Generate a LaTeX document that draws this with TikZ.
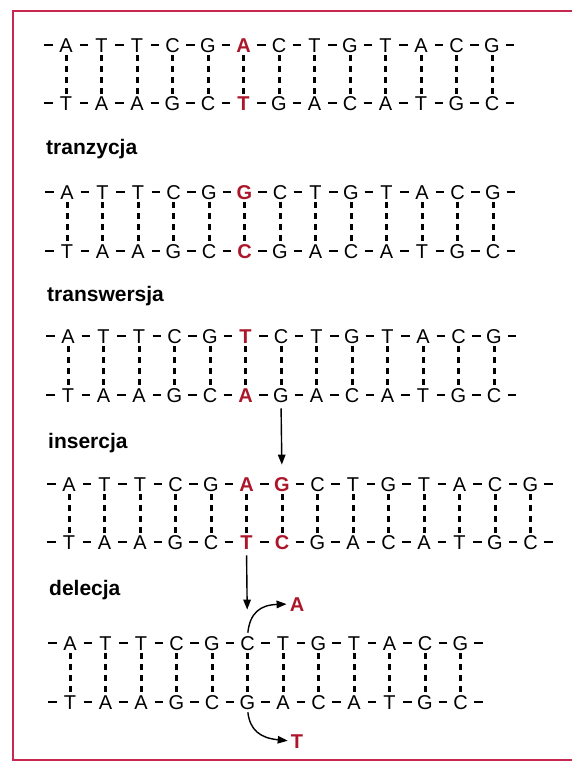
\documentclass[tikz,border=0pt]{standalone}
\usepackage{fontspec}
\setmainfont{Liberation Sans}
\usetikzlibrary{arrows.meta}

\definecolor{mutred}{RGB}{172,22,42}
\definecolor{framered}{RGB}{200,40,80}

\tikzset{
  bp/.style={inner sep=0pt, text height=14.3pt, text depth=0pt,
    font=\fontsize{20}{22}\selectfont},
  mt/.style={bp, text=mutred, font=\fontsize{20}{22}\selectfont\bfseries},
  bond/.style={line width=1.4pt, shorten <=13.5pt, shorten >=13.5pt},
  hbond/.style={line width=3pt, dash pattern=on 6pt off 5pt,
    shorten <=3pt, shorten >=1pt},
  title/.style={anchor=base west, inner sep=0pt,
    font=\fontsize{21}{24}\selectfont\bfseries},
  jump/.style={-{Triangle[length=10pt,width=7.5pt]}, line width=1.4pt},
}

% #1 name, #2 first x, #3 upper y, #4 lower y, #5 length, #6 upper, #7 lower
\newcommand\dna[7]{%
  \foreach \nb/\st [count=\i] in {#6}
    \node[\st] (#1t\i) at ({#2+35.5*(\i-1)},#3) {\nb};
  \foreach \nb/\st [count=\i] in {#7}
    \node[\st] (#1b\i) at ({#2+35.5*(\i-1)},#4) {\nb};
  \pgfmathtruncatemacro\dnaend{#5+1}
  \coordinate (#1t0) at ({#2-35.5},#3);
  \coordinate (#1b0) at ({#2-35.5},#4);
  \coordinate (#1t\dnaend) at ({#2+35.5*#5},#3);
  \coordinate (#1b\dnaend) at ({#2+35.5*#5},#4);
  \foreach \i [evaluate=\i as \j using int(\i+1)] in {0,...,#5} {
    \draw[bond] (#1t\i.center) -- (#1t\j.center);
    \draw[bond] (#1b\i.center) -- (#1b\j.center);
  }
  \foreach \i in {1,...,#5}
    \draw[hbond] (#1t\i.south) -- (#1b\i.north);
}

\begin{document}
\begin{tikzpicture}[x=1pt,y=-1pt]
\useasboundingbox (0,0) rectangle (572,762);
\draw[framered, line width=1.8pt] (580,11) -- (13,11) -- (13,760) -- (580,760);

\dna{org}{66}{45}{103}{13}
  {A/bp,T/bp,T/bp,C/bp,G/bp,A/mt,C/bp,T/bp,G/bp,T/bp,A/bp,C/bp,G/bp}
  {T/bp,A/bp,A/bp,G/bp,C/bp,T/mt,G/bp,A/bp,C/bp,A/bp,T/bp,G/bp,C/bp}

\node[title] (tzclabel) at (46,155) {tranzycja};
\dna{tzc}{67}{192}{251}{13}
  {A/bp,T/bp,T/bp,C/bp,G/bp,G/mt,C/bp,T/bp,G/bp,T/bp,A/bp,C/bp,G/bp}
  {T/bp,A/bp,A/bp,G/bp,C/bp,C/mt,G/bp,A/bp,C/bp,A/bp,T/bp,G/bp,C/bp}

\node[title] (tswlabel) at (47,301) {transwersja};
\dna{tsw}{68}{336}{395}{13}
  {A/bp,T/bp,T/bp,C/bp,G/bp,T/mt,C/bp,T/bp,G/bp,T/bp,A/bp,C/bp,G/bp}
  {T/bp,A/bp,A/bp,G/bp,C/bp,A/mt,G/bp,A/bp,C/bp,A/bp,T/bp,G/bp,C/bp}

\node[title] (inslabel) at (48,448) {insercja};
\dna{ins}{69}{484}{542}{14}
  {A/bp,T/bp,T/bp,C/bp,G/bp,A/mt,G/mt,C/bp,T/bp,G/bp,T/bp,A/bp,C/bp,G/bp}
  {T/bp,A/bp,A/bp,G/bp,C/bp,T/mt,C/mt,G/bp,A/bp,C/bp,A/bp,T/bp,G/bp,C/bp}

\node[title] (dellabel) at (49,595) {delecja};
\dna{del}{70}{643}{702}{12}
  {A/bp,T/bp,T/bp,C/bp,G/bp,C/bp,T/bp,G/bp,T/bp,A/bp,C/bp,G/bp}
  {T/bp,A/bp,A/bp,G/bp,C/bp,G/bp,A/bp,C/bp,A/bp,T/bp,G/bp,C/bp}

\draw[jump, shorten <=6pt, shorten >=12pt] (tswb7.south) -- (inst7.north);
\draw[jump, shorten <=6pt, shorten >=26pt] (insb6.south) -- (delt6.north);

\node[mt] (goneA) at (297,604) {A};
\node[mt] (goneT) at (297,741) {T};
\draw[jump, shorten <=3pt, shorten >=3pt] (delt6.north)
  .. controls (250,613) and (260,605) .. (goneA.west);
\draw[jump, shorten <=3pt, shorten >=3pt] (delb6.south)
  .. controls (250,730) and (260,738) .. (goneT.west);
\end{tikzpicture}
\end{document}
